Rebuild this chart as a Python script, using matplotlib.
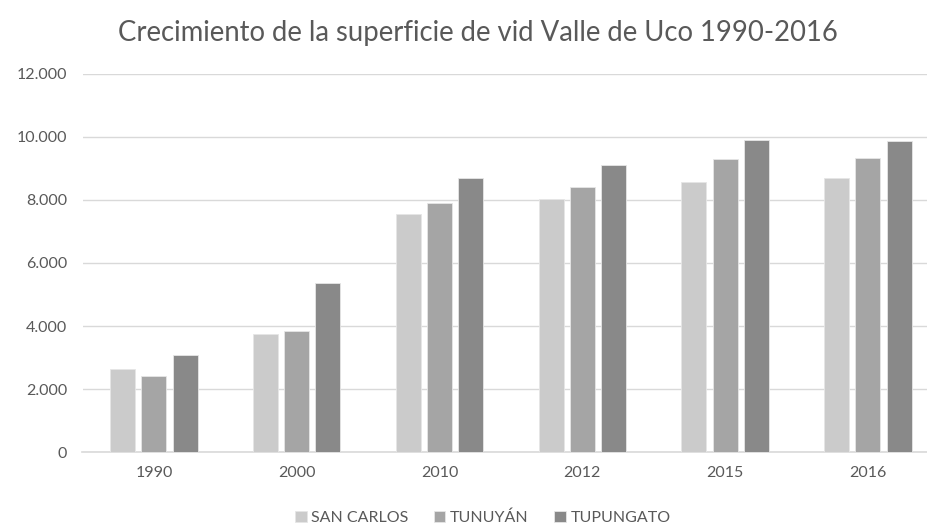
import numpy as np
import matplotlib.pyplot as plt
from matplotlib.ticker import FuncFormatter

anios = ['1990', '2000', '2010', '2012', '2015', '2016']
san_carlos = [2640, 3750, 7540, 8040, 8570, 8690]
tunuyan = [2410, 3855, 7900, 8400, 9290, 9320]
tupungato = [3075, 5365, 8695, 9095, 9890, 9860]

series = ['SAN CARLOS', 'TUNUYÁN', 'TUPUNGATO']
colores = ['#cbcbcb', '#a5a5a5', '#898989']

plt.rcParams['font.family'] = ['Lato', 'DejaVu Sans']

fig = plt.figure(figsize=(9.27, 5.29), dpi=100)
ax = fig.add_axes([82.5 / 927, (529 - 452.3) / 529, 856.8 / 927, (452.3 - 73.7) / 529])

x = np.arange(len(anios))
ancho = 0.175
paso = 0.219
for i, (vals, nombre, col) in enumerate(zip([san_carlos, tunuyan, tupungato], series, colores)):
    ax.bar(x + (i - 1) * paso, vals, width=ancho, color=col, label=nombre,
           edgecolor='#e6e6e6', linewidth=0.6, zorder=3)

ax.set_xlim(-0.5, len(anios) - 0.5)
ax.set_ylim(0, 12000)
ax.set_yticks(range(0, 12001, 2000))
ax.yaxis.set_major_formatter(FuncFormatter(lambda v, p: f'{int(v):,}'.replace(',', '.')))
ax.set_xticks(x)
ax.set_xticklabels(anios)

ax.grid(axis='y', color='#d9d9d9', linewidth=1, zorder=0)
for s in ['top', 'right', 'left']:
    ax.spines[s].set_visible(False)
ax.spines['bottom'].set_color('#d9d9d9')
ax.spines['bottom'].set_linewidth(1.2)
ax.tick_params(length=0, colors='#595959', labelsize=11.5)
ax.tick_params(axis='y', pad=11)
ax.tick_params(axis='x', pad=10)

fig.text(478 / 927, 1 - 33 / 529, 'Crecimiento de la superficie de vid Valle de Uco 1990-2016',
         ha='center', va='center', fontsize=19.8, color='#595959')

fig.legend(loc='center', bbox_to_anchor=(483 / 927, 1 - 518 / 529), ncol=3, frameon=False,
           fontsize=11.5, labelcolor='#595959', handlelength=0.7, handleheight=0.7,
           handletextpad=0.3, columnspacing=1.6)

fig.savefig('out.png', dpi=100)
